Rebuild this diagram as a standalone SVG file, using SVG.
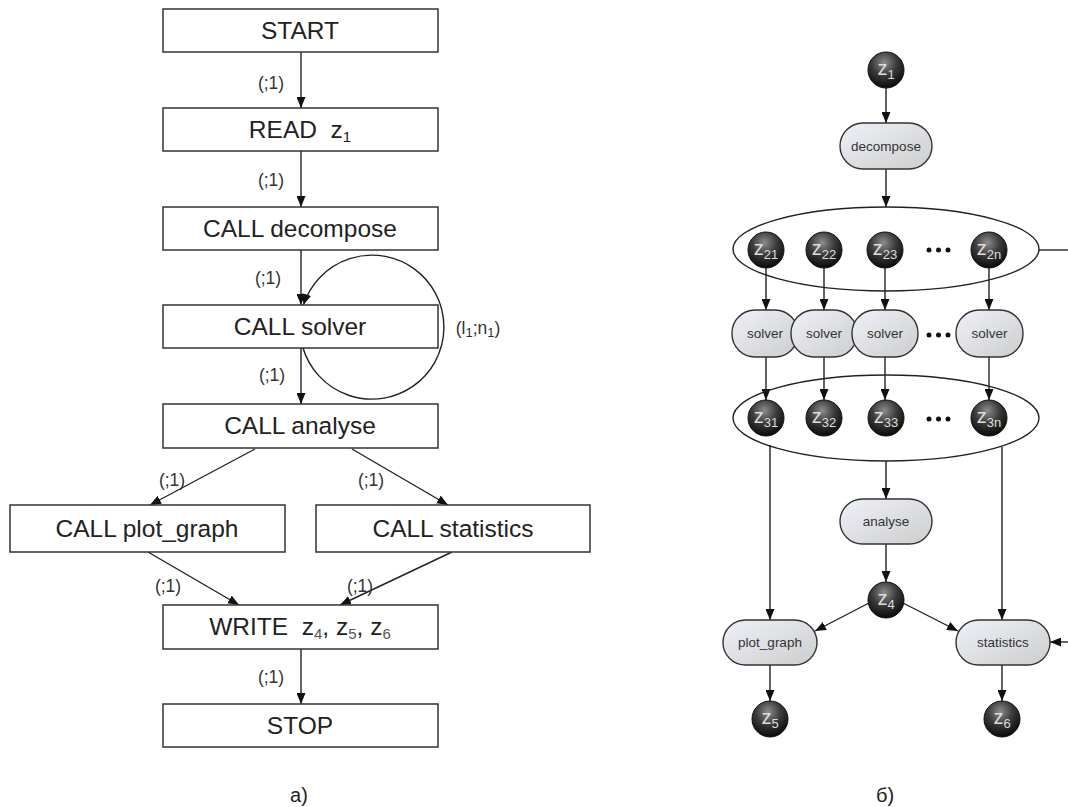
<svg xmlns="http://www.w3.org/2000/svg" width="1068" height="807" viewBox="0 0 1068 807">
<style>
.box{fill:#fff;stroke:#333;stroke-width:1.5}
.bt{font-family:"Liberation Sans",Arial,sans-serif;font-size:24.5px;fill:#222;text-anchor:middle}
.lbl{font-family:"Liberation Sans",Arial,sans-serif;font-size:17.5px;fill:#333;text-anchor:middle}
.ln{stroke:#222;stroke-width:1.4;fill:none}
.pill{fill:url(#pg);stroke:#333;stroke-width:1.4}
.pt{font-family:"Liberation Sans",Arial,sans-serif;font-size:13.5px;fill:#333;text-anchor:middle}
.zc{fill:url(#zg);stroke:#111;stroke-width:1}
.zt{font-family:"Liberation Sans",Arial,sans-serif;font-size:20px;fill:#ddd;text-anchor:middle}
.sub{font-size:13px}
.dot{fill:#111}
.cap{font-family:"Liberation Sans",Arial,sans-serif;font-size:20px;fill:#222;text-anchor:middle}
</style>
<defs>
<marker id="ah" markerUnits="userSpaceOnUse" markerWidth="11" markerHeight="9" viewBox="0 0 11 9" refX="11" refY="4.5" orient="auto"><path d="M0,0 L11,4.5 L0,9 z" fill="#111"/></marker>
<radialGradient id="zg" cx="0.45" cy="0.3" r="0.7"><stop offset="0" stop-color="#8c8c8c"/><stop offset="0.5" stop-color="#3a3a3a"/><stop offset="1" stop-color="#0a0a0a"/></radialGradient>
<linearGradient id="pg" x1="0" y1="0" x2="1" y2="1"><stop offset="0" stop-color="#eef1f8"/><stop offset="1" stop-color="#cdcdcd"/></linearGradient>
</defs>
<rect width="1068" height="807" fill="#fff"/>

<!-- Left flowchart connectors -->
<g id="connectors-a">
<line class="ln" x1="301" y1="52" x2="301" y2="108" marker-end="url(#ah)"/>
<line class="ln" x1="301" y1="151" x2="301" y2="207" marker-end="url(#ah)"/>
<line class="ln" x1="301" y1="250" x2="301" y2="305" marker-end="url(#ah)"/>
<path class="ln" d="M303 348 A72 72 0 1 0 303.4 305" marker-end="url(#ah)"/>
<line class="ln" x1="301" y1="348" x2="301" y2="404" marker-end="url(#ah)"/>
<line class="ln" x1="255" y1="449" x2="150" y2="505" marker-end="url(#ah)"/>
<line class="ln" x1="352" y1="449" x2="448" y2="505" marker-end="url(#ah)"/>
<line class="ln" x1="148" y1="552" x2="239" y2="605" marker-end="url(#ah)"/>
<line class="ln" x1="452" y1="552" x2="340" y2="605" marker-end="url(#ah)"/>
<line class="ln" x1="301" y1="649" x2="301" y2="704" marker-end="url(#ah)"/>
<text class="lbl" x="271" y="89">(;1)</text>
<text class="lbl" x="271" y="186">(;1)</text>
<text class="lbl" x="268" y="284">(;1)</text>
<text class="lbl" x="272" y="381">(;1)</text>
<text class="lbl" x="172" y="486">(;1)</text>
<text class="lbl" x="371" y="486">(;1)</text>
<text class="lbl" x="168" y="592">(;1)</text>
<text class="lbl" x="360" y="592">(;1)</text>
<text class="lbl" x="271" y="683">(;1)</text>
<text class="lbl" x="478" y="334">(l<tspan class="sub" dy="3">1</tspan><tspan dy="-3">;n</tspan><tspan class="sub" dy="3">1</tspan><tspan dy="-3">)</tspan></text>
</g>

<!-- Left flowchart nodes -->
<g id="start"><rect class="box" x="163" y="9" width="275" height="43"/><text class="bt" x="300" y="39">START</text></g>
<g id="read"><rect class="box" x="163" y="108" width="275" height="43"/><text class="bt" x="300" y="138" xml:space="preserve">READ  z<tspan font-size="15" dy="4">1</tspan></text></g>
<g id="call-decompose"><rect class="box" x="163" y="207" width="275" height="43"/><text class="bt" x="300" y="237">CALL decompose</text></g>
<g id="call-solver"><rect class="box" x="163" y="305" width="275" height="43"/><text class="bt" x="300" y="335">CALL solver</text></g>
<g id="call-analyse"><rect class="box" x="163" y="404" width="275" height="44"/><text class="bt" x="300" y="434">CALL analyse</text></g>
<g id="call-plot-graph"><rect class="box" x="10" y="505" width="275" height="47"/><text class="bt" x="147" y="537">CALL plot_graph</text></g>
<g id="call-statistics"><rect class="box" x="316" y="505" width="274" height="47"/><text class="bt" x="453" y="537">CALL statistics</text></g>
<g id="write"><rect class="box" x="163" y="605" width="275" height="44"/><text class="bt" x="300" y="635" xml:space="preserve">WRITE  z<tspan font-size="15" dy="4" fill="#555">4</tspan><tspan dy="-4">, z</tspan><tspan font-size="15" dy="4" fill="#555">5</tspan><tspan dy="-4">, z</tspan><tspan font-size="15" dy="4" fill="#555">6</tspan></text></g>
<g id="stop"><rect class="box" x="163" y="704" width="275" height="43"/><text class="bt" x="300" y="734">STOP</text></g>
<text class="cap" x="299" y="802">a)</text>

<!-- Right graph connectors -->
<g id="connectors-b">
<line class="ln" x1="886" y1="88" x2="886" y2="123" marker-end="url(#ah)"/>
<line class="ln" x1="886" y1="169" x2="886" y2="207" marker-end="url(#ah)"/>
<ellipse class="ln" cx="886" cy="249" rx="153" ry="42"/>
<line class="ln" x1="1039" y1="250" x2="1068" y2="250"/>
<line class="ln" x1="766" y1="268" x2="766" y2="310" marker-end="url(#ah)"/>
<line class="ln" x1="824" y1="268" x2="824" y2="310" marker-end="url(#ah)"/>
<line class="ln" x1="885" y1="268" x2="885" y2="310" marker-end="url(#ah)"/>
<line class="ln" x1="989" y1="268" x2="989" y2="310" marker-end="url(#ah)"/>
<line class="ln" x1="766" y1="357" x2="766" y2="400" marker-end="url(#ah)"/>
<line class="ln" x1="824" y1="357" x2="824" y2="400" marker-end="url(#ah)"/>
<line class="ln" x1="885" y1="357" x2="885" y2="400" marker-end="url(#ah)"/>
<line class="ln" x1="989" y1="357" x2="989" y2="400" marker-end="url(#ah)"/>
<ellipse class="ln" cx="886" cy="418" rx="153" ry="43"/>
<line class="ln" x1="886" y1="461" x2="886" y2="499" marker-end="url(#ah)"/>
<line class="ln" x1="886" y1="544" x2="886" y2="582" marker-end="url(#ah)"/>
<line class="ln" x1="770" y1="445" x2="770" y2="620" marker-end="url(#ah)"/>
<line class="ln" x1="1002" y1="447" x2="1002" y2="620" marker-end="url(#ah)"/>
<line class="ln" x1="869" y1="603" x2="815" y2="631" marker-end="url(#ah)"/>
<line class="ln" x1="903" y1="603" x2="958" y2="631" marker-end="url(#ah)"/>
<line class="ln" x1="1068" y1="642" x2="1050" y2="642" marker-end="url(#ah)"/>
<line class="ln" x1="770" y1="665" x2="770" y2="701" marker-end="url(#ah)"/>
<line class="ln" x1="1002" y1="665" x2="1002" y2="701" marker-end="url(#ah)"/>
</g>

<!-- Right graph nodes -->
<g id="z1"><circle class="zc" cx="886" cy="70" r="18"/><text class="zt" x="886" y="75">z<tspan class="sub" dy="4">1</tspan></text></g>
<g id="decompose"><rect class="pill" x="840" y="123" width="92" height="46" rx="23"/><text class="pt" x="886" y="151">decompose</text></g>
<g id="z21"><circle class="zc" cx="766" cy="250" r="18"/><text class="zt" x="766" y="255">z<tspan class="sub" dy="4">21</tspan></text></g>
<g id="z22"><circle class="zc" cx="824" cy="250" r="18"/><text class="zt" x="824" y="255">z<tspan class="sub" dy="4">22</tspan></text></g>
<g id="z23"><circle class="zc" cx="885" cy="250" r="18"/><text class="zt" x="885" y="255">z<tspan class="sub" dy="4">23</tspan></text></g>
<g id="dots-z2"><circle class="dot" cx="929" cy="250" r="2.5"/><circle class="dot" cx="938.5" cy="250" r="2.5"/><circle class="dot" cx="948" cy="250" r="2.5"/></g>
<g id="z2n"><circle class="zc" cx="989" cy="250" r="18"/><text class="zt" x="989" y="255">z<tspan class="sub" dy="4">2n</tspan></text></g>
<g id="solver1"><rect class="pill" x="732" y="310" width="66" height="47" rx="23"/><text class="pt" x="765" y="338">solver</text></g>
<g id="solver2"><rect class="pill" x="791" y="310" width="66" height="47" rx="23"/><text class="pt" x="824" y="338">solver</text></g>
<g id="solver3"><rect class="pill" x="852" y="310" width="66" height="47" rx="23"/><text class="pt" x="885" y="338">solver</text></g>
<g id="dots-solver"><circle class="dot" cx="929" cy="335" r="2.5"/><circle class="dot" cx="938.5" cy="335" r="2.5"/><circle class="dot" cx="948" cy="335" r="2.5"/></g>
<g id="solvern"><rect class="pill" x="956" y="310" width="67" height="47" rx="23"/><text class="pt" x="989.5" y="338">solver</text></g>
<g id="z31"><circle class="zc" cx="766" cy="418" r="18"/><text class="zt" x="766" y="423">z<tspan class="sub" dy="4">31</tspan></text></g>
<g id="z32"><circle class="zc" cx="824" cy="418" r="18"/><text class="zt" x="824" y="423">z<tspan class="sub" dy="4">32</tspan></text></g>
<g id="z33"><circle class="zc" cx="886" cy="418" r="18"/><text class="zt" x="886" y="423">z<tspan class="sub" dy="4">33</tspan></text></g>
<g id="dots-z3"><circle class="dot" cx="929" cy="419" r="2.5"/><circle class="dot" cx="938.5" cy="419" r="2.5"/><circle class="dot" cx="948" cy="419" r="2.5"/></g>
<g id="z3n"><circle class="zc" cx="989" cy="418" r="18"/><text class="zt" x="989" y="423">z<tspan class="sub" dy="4">3n</tspan></text></g>
<g id="analyse"><rect class="pill" x="840" y="499" width="92" height="45" rx="22.5"/><text class="pt" x="886" y="526">analyse</text></g>
<g id="z4"><circle class="zc" cx="886" cy="600" r="18"/><text class="zt" x="886" y="605">z<tspan class="sub" dy="4">4</tspan></text></g>
<g id="plot_graph"><rect class="pill" x="723" y="620" width="94" height="45" rx="22.5"/><text class="pt" x="770" y="647">plot_graph</text></g>
<g id="statistics"><rect class="pill" x="956" y="620" width="94" height="45" rx="22.5"/><text class="pt" x="1003" y="647">statistics</text></g>
<g id="z5"><circle class="zc" cx="770" cy="719" r="18"/><text class="zt" x="770" y="724">z<tspan class="sub" dy="4">5</tspan></text></g>
<g id="z6"><circle class="zc" cx="1002" cy="719" r="18"/><text class="zt" x="1002" y="724">z<tspan class="sub" dy="4">6</tspan></text></g>
<text class="cap" x="885" y="802">б)</text>
</svg>
